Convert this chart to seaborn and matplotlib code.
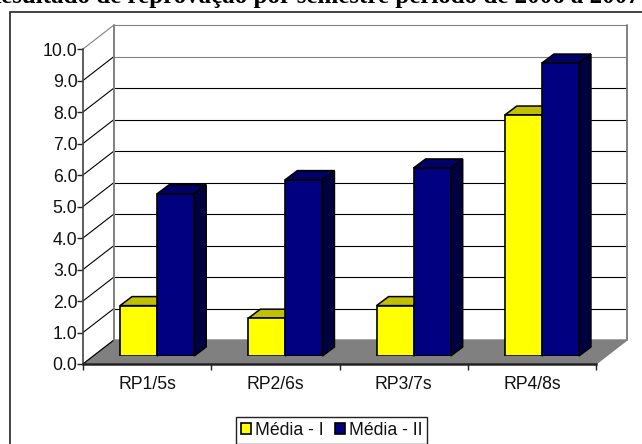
import matplotlib
matplotlib.use('Agg')
import matplotlib.pyplot as plt
from matplotlib.patches import Polygon, Rectangle
import numpy as np
import pandas as pd
import seaborn as sns

categories = ['RP1/5s', 'RP2/6s', 'RP3/7s', 'RP4/8s']
media_1 = [1.6, 1.2, 1.6, 7.65]
media_2 = [5.15, 5.6, 5.97, 9.3]
series_names = ['Média - I', 'Média - II']
yticks = np.arange(0, 10.5, 1.0)
title = 'Resultado de reprovação por semestre período de 2006 a 2007'

W, H = 642, 444
FONT = 'Liberation Sans'

df = pd.DataFrame({
    'cat': categories * 2,
    'val': media_1 + media_2,
    'serie': [series_names[0]] * 4 + [series_names[1]] * 4,
})


def px_rect(x0, y_top, x1, y_bottom):
    # pixel box (image coords, y down) to figure fractions
    return [x0 / W, 1 - y_bottom / H, (x1 - x0) / W, (y_bottom - y_top) / H]


sns.set_theme(style='white')
plt.rcParams['font.family'] = [FONT, 'DejaVu Sans']

fig = plt.figure(figsize=(W / 100, H / 100), dpi=100)

# outer chart frame runs off the right and bottom edge
fig.add_artist(Rectangle((10 / W, -0.1), 1.1, 1.1 - 12 / H, transform=fig.transFigure,
                         fill=False, edgecolor='#222222', linewidth=1.2))
# the title is cut by the top of the picture in the source as well
fig.text(-17 / W, 1 - 3.5 / H, title, family='Liberation Serif', fontweight='bold',
         fontsize=18, ha='left', va='baseline', color='black')

ax = fig.add_axes(px_rect(83, 49, 596, 364))
ax.set_xlim(-0.5, 3.5)
ax.set_ylim(0, 10)
ax.patch.set_alpha(0)

# depth of the fake 3d box, in data units
depth_x = 31 / (513 / 4)
depth_y = 24 / 31.5

ax.add_patch(Polygon([(-0.5, 0), (-0.5 + depth_x, depth_y), (3.5 + depth_x, depth_y), (3.5, 0)],
                     closed=True, facecolor='#808080', edgecolor='#808080', clip_on=False, zorder=1))
for v in yticks[1:]:
    c = '#808080' if v >= 9 else 'black'
    ax.plot([-0.5 + depth_x, 3.5 + depth_x], [v + depth_y, v + depth_y], color=c, lw=0.8,
            clip_on=False, zorder=1)
for v in yticks[:]:
    c = '#808080' if v == 10 else 'black'
    ax.plot([-0.5, -0.5 + depth_x], [v, v + depth_y], color=c, lw=0.8, clip_on=False, zorder=1)
for x in [-0.5 + depth_x, 3.5 + depth_x]:
    ax.plot([x, x], [depth_y, 10 + depth_y], color='#808080', lw=1.4, clip_on=False, zorder=1)

ax.set_yticks(yticks)
ax.set_yticklabels([f'{v:.1f}' for v in yticks], fontsize=12.7, color='#111111')
ax.set_xticks(np.arange(-0.5, 4, 1))
ax.set_xticklabels([])
ax.set_xticks(range(4), categories, minor=True, fontsize=12.7, color='#111111')
ax.tick_params(axis='y', length=4, width=1, color='#222222', pad=0, left=True)
ax.tick_params(axis='x', which='major', length=4, width=1, color='#222222', bottom=True)
ax.tick_params(axis='x', which='minor', length=0, pad=8.5)
for s in ['top', 'right']:
    ax.spines[s].set_visible(False)
ax.spines['left'].set_color('#444444')
ax.spines['left'].set_linewidth(1.2)
ax.spines['bottom'].set_color('#222222')
ax.spines['bottom'].set_linewidth(1.8)
ax.spines['bottom'].set_zorder(3)

# bars sit a bit inside the floor, on their own axes with the same scale
ax_bars = fig.add_axes(px_rect(93, 41, 606, 356))
ax_bars.patch.set_alpha(0)
sns.barplot(data=df, x='cat', y='val', hue='serie', palette=['#FFFF00', '#000080'], saturation=1,
            width=0.578, edgecolor='black', linewidth=1.2, ax=ax_bars, zorder=3, legend=False)
ax_bars.set_xlim(-0.5, 3.5)
ax_bars.set_ylim(0, 10)
ax_bars.axis('off')

bar_dx = 12 / (513 / 4)
bar_dy = 9 / 31.5
shades = [('#C0C000', '#808000'), ('#000066', '#000040')]
for cont, (top_col, side_col) in zip(ax_bars.containers, shades):
    for b in cont:
        x0, x1, h = b.get_x(), b.get_x() + b.get_width(), b.get_height()
        ax_bars.add_patch(Polygon([(x0, h), (x0 + bar_dx, h + bar_dy), (x1 + bar_dx, h + bar_dy), (x1, h)],
                                  closed=True, facecolor=top_col, edgecolor='black', lw=1.1,
                                  clip_on=False, zorder=2))
        ax_bars.add_patch(Polygon([(x1, 0), (x1 + bar_dx, bar_dy), (x1 + bar_dx, h + bar_dy), (x1, h)],
                                  closed=True, facecolor=side_col, edgecolor='black', lw=1.1,
                                  clip_on=False, zorder=2))

handles = [Rectangle((0, 0), 1, 1, facecolor=c, edgecolor='black', lw=1.2) for c in ['#FFFF00', '#000080']]
fig.legend(handles, series_names, loc='lower left', bbox_to_anchor=(236 / W, 0.5 / H, 191 / W, 27 / H),
           mode='expand', ncol=2, fontsize=12.7, fancybox=False, framealpha=1, edgecolor='#222222',
           borderaxespad=0, handlelength=0.58, handleheight=0.6, handletextpad=0.2,
           columnspacing=0.4, borderpad=0.28, labelcolor='#111111')

plt.savefig('out.png', dpi=100)
plt.close()
